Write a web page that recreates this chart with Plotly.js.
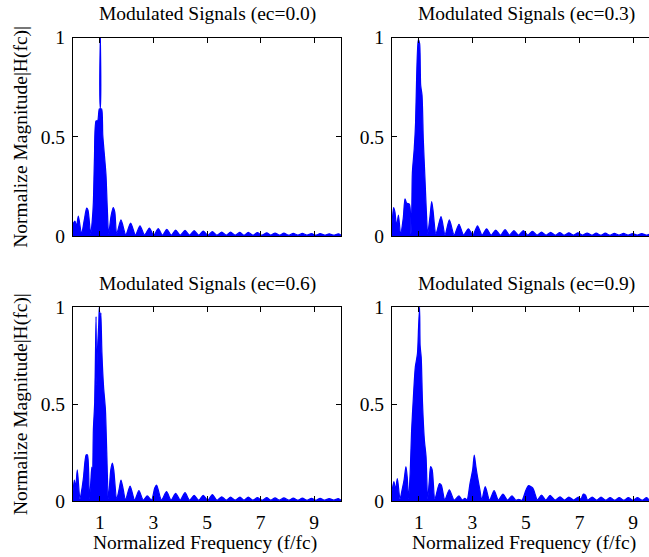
<!DOCTYPE html>
<html>
<head>
<meta charset="utf-8">
<script src="https://cdn.plot.ly/plotly-3.0.1.min.js"></script>
<style>html,body{margin:0;padding:0;background:#fff;}#chart{width:649px;height:557px;}</style>
</head>
<body>
<div id="chart"></div>
<script>
// ---- Data (normalized frequency f/fc, normalized magnitude) ----
const titles = ["Modulated Signals (ec=0.0)", "Modulated Signals (ec=0.3)", "Modulated Signals (ec=0.6)", "Modulated Signals (ec=0.9)"];
const xTickVals = [1, 3, 5, 7, 9];
const yTickVals = [0, 0.5, 1];
const xLabel = "Normalized Frequency (f/fc)";
const yLabel = "Normalize Magnitude|H(fc)|";

const f00 = [0,0.07,0.13,0.2,0.32,0.42,0.51,0.56,0.66,0.72,0.76,0.80,0.86,0.92,0.98,1.01,1.02,1.03,1.07,1.11,1.17,1.23,1.28,1.33,1.42,1.50,1.56,1.63,1.79,1.97,2.15,2.33,2.50,2.67,2.85,3.01,3.18,3.34,3.50,3.67,3.83,4.0,4.18,4.35,4.52,4.69,4.86,5.03,5.20,5.37,5.55,5.72,5.88,6.05,6.23,6.38,6.54,6.71,6.88,7.05,7.23,7.38,7.54,7.7,7.87,8.05,8.22,8.39,8.56,8.73,8.9,9.06,9.22,9.39,9.56,9.73,9.9,10.0];
const m00 = [0.06,0.075,0.05,0.10,0.01,0.08,0.14,0.13,0.01,0.08,0.17,0.39,0.58,0.58,0.64,0.64,1.0,0.64,0.64,0.51,0.41,0.31,0.14,0.01,0.10,0.143,0.12,0.01,0.081,0.006,0.065,0.005,0.051,0.005,0.04,0.004,0.037,0.004,0.033,0.004,0.03,0.004,0.028,0.004,0.027,0.004,0.025,0.004,0.022,0.004,0.02,0.004,0.02,0.004,0.018,0.004,0.018,0.004,0.017,0.004,0.016,0.004,0.015,0.004,0.014,0.004,0.013,0.004,0.013,0.004,0.012,0.004,0.012,0.004,0.011,0.004,0.011,0.004];

const f03 = [0,0.06,0.11,0.17,0.24,0.32,0.42,0.485,0.55,0.65,0.71,0.74,0.76,0.83,0.88,0.92,0.98,1.03,1.07,1.12,1.17,1.23,1.29,1.33,1.42,1.48,1.53,1.64,1.83,1.98,2.14,2.32,2.5,2.67,2.85,3.02,3.19,3.36,3.53,3.70,3.87,4.05,4.22,4.38,4.55,4.72,4.9,5.07,5.24,5.41,5.58,5.75,5.92,6.09,6.26,6.43,6.6,6.77,6.94,7.11,7.28,7.45,7.62,7.79,7.96,8.13,8.3,8.47,8.64,8.81,8.98,9.15,9.32,9.49,9.66,9.8];
const m03 = [0.06,0.143,0.12,0.05,0.105,0.01,0.09,0.187,0.165,0.16,0.01,0.15,0.32,0.44,0.57,0.80,0.99,0.97,0.76,0.71,0.48,0.29,0.10,0.01,0.10,0.173,0.13,0.01,0.098,0.006,0.081,0.005,0.059,0.005,0.036,0.005,0.051,0.005,0.036,0.004,0.03,0.004,0.032,0.004,0.027,0.004,0.027,0.004,0.024,0.004,0.02,0.004,0.018,0.004,0.017,0.004,0.016,0.004,0.016,0.004,0.015,0.004,0.014,0.004,0.014,0.004,0.013,0.004,0.013,0.004,0.012,0.004,0.012,0.004,0.011,0.004];

const f06 = [0,0.05,0.1,0.16,0.26,0.33,0.39,0.49,0.54,0.61,0.66,0.70,0.73,0.76,0.81,0.86,0.88,0.91,0.96,0.98,1.0,1.02,1.04,1.08,1.14,1.21,1.26,1.32,1.41,1.47,1.52,1.63,1.72,1.79,1.86,1.96,2.13,2.30,2.46,2.62,2.77,2.93,3.05,3.12,3.30,3.49,3.66,3.83,4.0,4.18,4.35,4.52,4.69,4.86,5.03,5.2,5.37,5.55,5.72,5.88,6.05,6.23,6.38,6.54,6.71,6.88,7.05,7.23,7.38,7.54,7.7,7.87,8.05,8.22,8.39,8.56,8.73,8.9,9.06,9.22,9.39,9.56,9.73,9.9,10.0];
const m06 = [0.05,0.108,0.07,0.16,0.01,0.06,0.12,0.237,0.237,0.01,0.09,0.175,0.10,0.366,0.51,0.95,0.60,0.77,0.91,0.998,0.95,0.80,0.97,0.76,0.59,0.47,0.25,0.01,0.16,0.195,0.16,0.01,0.06,0.108,0.07,0.006,0.077,0.005,0.053,0.005,0.026,0.005,0.067,0.082,0.005,0.048,0.005,0.04,0.005,0.043,0.004,0.029,0.004,0.029,0.004,0.033,0.004,0.022,0.004,0.02,0.004,0.02,0.004,0.02,0.004,0.017,0.004,0.017,0.004,0.016,0.004,0.016,0.004,0.015,0.004,0.015,0.004,0.014,0.004,0.014,0.004,0.013,0.004,0.013,0.004];

const f09 = [0,0.07,0.13,0.2,0.3,0.38,0.45,0.52,0.57,0.62,0.68,0.73,0.80,0.87,0.95,0.99,1.03,1.05,1.09,1.14,1.21,1.27,1.33,1.39,1.44,1.5,1.6,1.77,1.84,1.97,2.14,2.32,2.5,2.62,2.72,2.8,2.91,3.01,3.07,3.13,3.19,3.28,3.35,3.48,3.64,3.81,3.97,4.14,4.31,4.48,4.62,4.73,4.85,5.0,5.1,5.25,5.35,5.42,5.58,5.74,5.9,6.08,6.27,6.43,6.6,6.78,6.95,7.05,7.14,7.22,7.3,7.47,7.64,7.8,7.97,8.14,8.31,8.48,8.65,8.82,8.99,9.16,9.33,9.5,9.6];
const m09 = [0.05,0.10,0.06,0.115,0.01,0.06,0.108,0.177,0.12,0.01,0.15,0.357,0.54,0.69,0.76,0.89,1.0,0.80,0.74,0.50,0.31,0.23,0.01,0.10,0.177,0.16,0.01,0.09,0.082,0.006,0.057,0.005,0.026,0.005,0.014,0.005,0.09,0.16,0.237,0.177,0.125,0.057,0.005,0.074,0.005,0.053,0.005,0.036,0.005,0.026,0.004,0.009,0.004,0.057,0.079,0.067,0.031,0.005,0.031,0.005,0.029,0.005,0.022,0.005,0.02,0.005,0.02,0.01,0.036,0.03,0.005,0.02,0.004,0.02,0.004,0.018,0.004,0.018,0.004,0.018,0.004,0.017,0.004,0.017,0.004];

// ---- Layout geometry (px in a 649x557 canvas) ----
const W = 649, H = 557;
const FONT = "'Liberation Serif', 'Times New Roman', serif";
const FS = 19.5;
const px = v => v / W;
const py = v => 1 - v / H;

const panels = [
  {f: f00, m: m00, x0: 73,  x1: 341, y0: 37.5, y1: 236, xr: [0, 10],   right: true,  bottom: false},
  {f: f03, m: m03, x0: 392, x1: 649, y0: 37.5, y1: 236, xr: [0, 9.59], right: false, bottom: false},
  {f: f06, m: m06, x0: 73,  x1: 341, y0: 307,  y1: 501, xr: [0, 10],   right: true,  bottom: true},
  {f: f09, m: m09, x0: 392, x1: 649, y0: 307,  y1: 501, xr: [0, 9.59], right: false, bottom: true}
];

const data = [];
const layout = {
  width: W, height: H,
  margin: {l: 0, r: 0, t: 0, b: 0},
  paper_bgcolor: "#fff", plot_bgcolor: "#fff",
  showlegend: false,
  font: {family: FONT, size: FS, color: "#000"},
  annotations: []
};

panels.forEach((p, i) => {
  const k = i === 0 ? "" : String(i + 1);
  data.push({
    type: "scatter", mode: "lines",
    x: p.f, y: p.m,
    xaxis: "x" + k, yaxis: "y" + k,
    fill: "tozeroy", fillcolor: "#0000ff",
    line: {color: "#0000ff", width: 1.2, shape: "spline", smoothing: 0.7},
    hoverinfo: "skip"
  });
  layout["xaxis" + k] = {
    domain: [px(p.x0), px(p.x1)], anchor: "y" + k,
    range: p.xr, tickvals: xTickVals, ticks: "inside", ticklen: 5, tickcolor: "#000",
    showline: true, linecolor: "#000", linewidth: 1, mirror: "ticks",
    showgrid: false, zeroline: false, fixedrange: true,
    showticklabels: p.bottom, ticklabelstandoff: 4,
    tickfont: {family: FONT, size: FS, color: "#000"}
  };
  layout["yaxis" + k] = {
    domain: [py(p.y1), py(p.y0)], anchor: "x" + k,
    range: [0, 1], tickvals: yTickVals, ticks: "inside", ticklen: 5, tickcolor: "#000",
    showline: true, linecolor: "#000", linewidth: 1, mirror: p.right ? "ticks" : false,
    showgrid: false, zeroline: false, fixedrange: true,
    ticklabelstandoff: 3,
    tickfont: {family: FONT, size: FS, color: "#000"}
  };
  const cx = (p.x0 + (p.right ? p.x1 : p.x0 + 268)) / 2;
  layout.annotations.push({
    text: titles[i], xref: "paper", yref: "paper",
    x: px(cx), y: py(p.y0 - 23), xanchor: "center", yanchor: "middle",
    showarrow: false, font: {family: FONT, size: FS, color: "#000"}
  });
  if (p.bottom) {
    layout.annotations.push({
      text: xLabel, xref: "paper", yref: "paper",
      x: px(cx - 2), y: py(543), xanchor: "center", yanchor: "middle",
      showarrow: false, font: {family: FONT, size: FS, color: "#000"}
    });
  }
  if (p.right) {
    layout.annotations.push({
      text: yLabel, xref: "paper", yref: "paper", textangle: -90,
      x: px(21), y: py((p.y0 + p.y1) / 2), xanchor: "center", yanchor: "middle",
      showarrow: false, font: {family: FONT, size: FS, color: "#000"}
    });
  }
});

Plotly.newPlot("chart", data, layout, {staticPlot: true, displayModeBar: false});
</script>
</body>
</html>
